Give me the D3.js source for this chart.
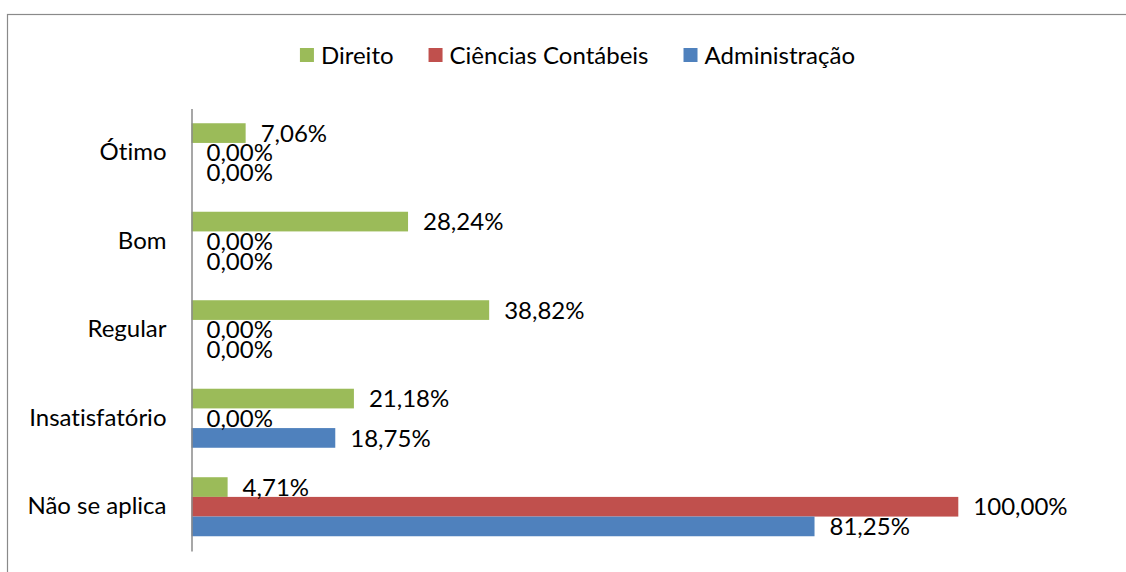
<!DOCTYPE html>
<html>
<head>
<meta charset="utf-8">
<script src="https://cdn.jsdelivr.net/npm/d3@7"></script>
<style>
  body { margin: 0; background: #fff; }
  text { font-family: Lato, "Open Sans", sans-serif; fill: #000; font-variant-ligatures: none; }
</style>
</head>
<body>
<div id="chart"></div>
<script>
// ====================== data ======================
var categories    = ["Ótimo", "Bom", "Regular", "Insatisfatório", "Não se aplica"];
var series_names  = ["Direito", "Ciências Contábeis", "Administração"];
var direito       = [7.06, 28.24, 38.82, 21.18, 4.71];
var contabeis     = [0.00, 0.00, 0.00, 0.00, 100.00];
var administracao = [0.00, 0.00, 0.00, 18.75, 81.25];
var colors        = ["#9BBB59", "#C0504D", "#4F81BD"];

var width  = 1126,
    height = 572,
    font_size = 24;

var svg = d3.select("#chart").append("svg")
    .attr("width", width)
    .attr("height", height);

// chart frame (runs off the right/bottom edge like the original)
svg.append("rect")
    .attr("x", 7.5)
    .attr("y", 14.5)
    .attr("width", width + 20)
    .attr("height", height + 20)
    .attr("fill", "none")
    .attr("stroke", "#8a8a8a")
    .attr("stroke-width", 1.2);

// ====================== scales ======================
var x = d3.scaleLinear()
    .domain([0, 100])
    .range([191.5, 958.3]);

var y = d3.scaleBand()
    .domain(categories)
    .range([108.5, 551])
    .paddingInner(0.333)
    .paddingOuter(0.1667);

var y_inner = d3.scaleBand()
    .domain(series_names)
    .range([0, y.bandwidth()]);

var pct = d3.formatLocale({decimal: ",", thousands: ".", grouping: [3], currency: ["", ""]}).format(".2f");

// build rows from the named arrays
var all_values = [direito, contabeis, administracao];
var rows = [];
categories.forEach(function(c, i){
    series_names.forEach(function(s, j){
        rows.push({cat: c, series: s, value: all_values[j][i], color: colors[j]});
    });
});

// ====================== bars ======================
svg.append("g")
    .selectAll("rect")
    .data(rows).enter()
    .append("rect")
    .attr("x", x(0))
    .attr("y", function(d){ return y(d.cat) + y_inner(d.series); })
    .attr("width", function(d){ return x(d.value) - x(0); })
    .attr("height", y_inner.bandwidth())
    .attr("fill", function(d){ return d.color; });

// data labels (zero labels overlap, as in the original)
svg.append("g")
    .selectAll("text")
    .data(rows).enter()
    .append("text")
    .attr("x", function(d){ return x(d.value) + 15; })
    .attr("y", function(d){ return y(d.cat) + y_inner(d.series) + y_inner.bandwidth() / 2; })
    .attr("dy", "0.36em")
    .attr("font-size", font_size)
    .text(function(d){ return pct(d.value) + "%"; });

// ====================== category axis ======================
var axis = svg.append("g")
    .attr("transform", "translate(" + x(0) + ",0)")
    .call(d3.axisLeft(y).tickSize(0).tickPadding(25));

axis.select(".domain")
    .attr("stroke", "#8a8a8a")
    .attr("stroke-width", 1.5);

axis.selectAll("text")
    .attr("font-size", font_size)
    .attr("font-family", "Lato, 'Open Sans', sans-serif")
    .attr("fill", "#000");

// ====================== legend ======================
var legend = svg.append("g");
var cursor = 0;
series_names.forEach(function(s, j){
    var item = legend.append("g").attr("transform", "translate(" + cursor + ",0)");
    item.append("rect")
        .attr("x", 0)
        .attr("y", 48)
        .attr("width", 14)
        .attr("height", 14)
        .attr("fill", colors[j]);
    var t = item.append("text")
        .attr("x", 21)
        .attr("y", 55)
        .attr("dy", "0.36em")
        .attr("font-size", font_size)
        .text(s);
    cursor += 21 + t.node().getComputedTextLength() + 35;
});
var legend_w = cursor - 35;
legend.attr("transform", "translate(" + (577.5 - legend_w / 2) + ",0)");
</script>
</body>
</html>
